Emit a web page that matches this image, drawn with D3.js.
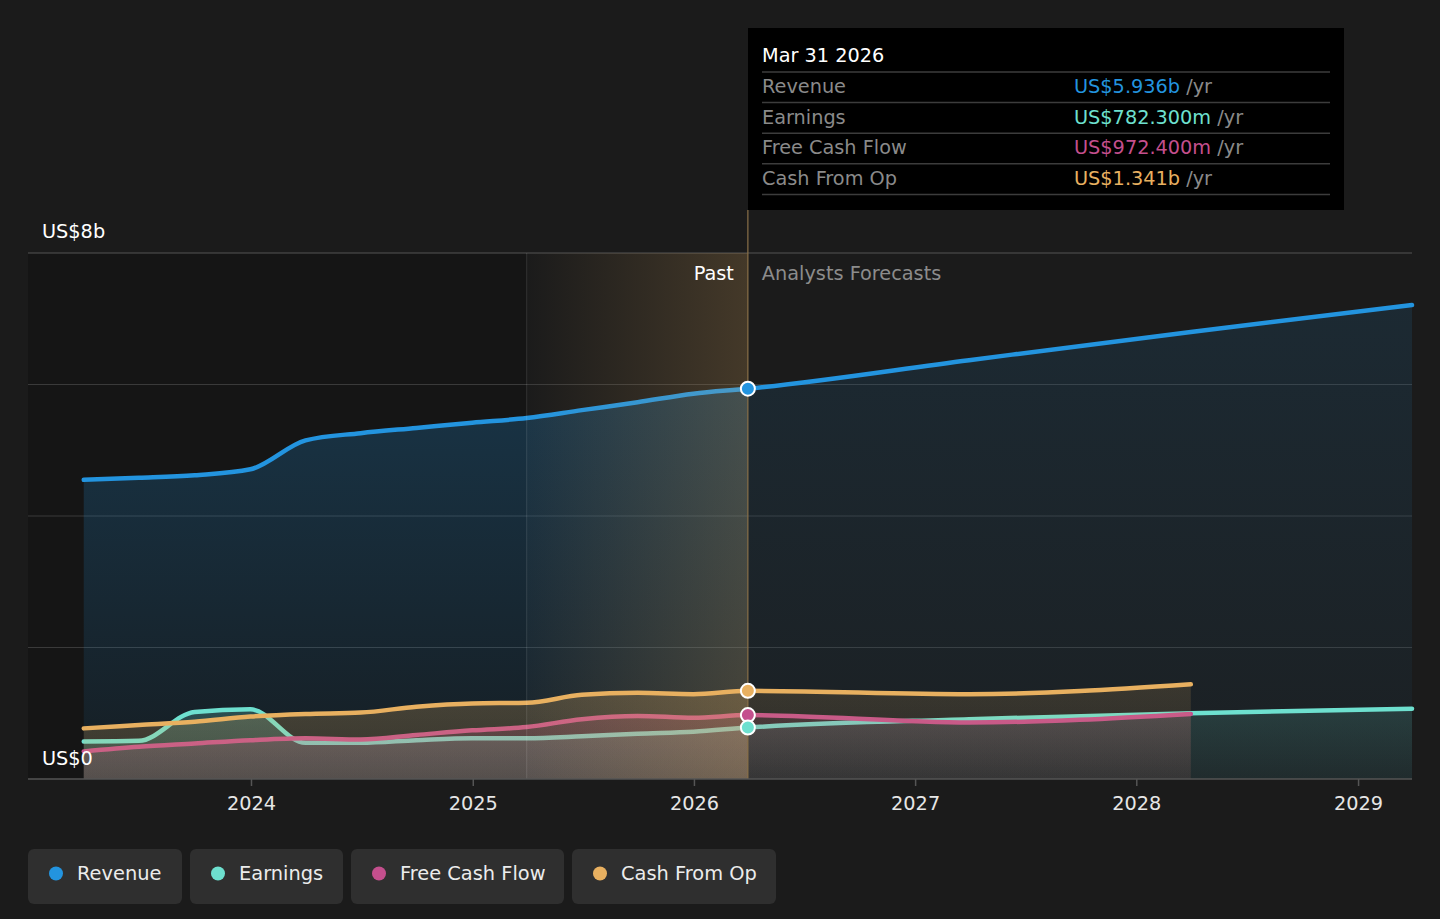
<!DOCTYPE html>
<html>
<head>
<meta charset="utf-8">
<script src="https://cdn.jsdelivr.net/npm/d3@7"></script>
<style>
  body { margin: 0; background: #1b1b1b; }
  svg { display: block; font-family: "DejaVu Sans", sans-serif; }
</style>
</head>
<body>
<svg id="chart" width="1440" height="919"></svg>
<script>
// quarterly history, then yearly analyst forecasts (values in US$ billions)
const pastDates = ["2023-03-31", "2023-06-30", "2023-09-30", "2023-12-31", "2024-03-31", "2024-06-30",
  "2024-09-30", "2024-12-31", "2025-03-31", "2025-06-30", "2025-09-30", "2025-12-31", "2026-03-31"];
const forecastDates = ["2027-03-31", "2028-03-31", "2029-03-31"];

const revenuePast = [4.55, 4.58, 4.62, 4.71, 5.15, 5.26, 5.34, 5.42, 5.49, 5.61, 5.73, 5.86, 5.936];
const revenueForecast = [6.37, 6.80, 7.21];

const earningsPast = [0.57, 0.58, 1.02, 1.06, 0.55, 0.55, 0.59, 0.62, 0.62, 0.65, 0.69, 0.72, 0.7823];
const earningsForecast = [0.91, 1.00, 1.07];

const fcfPast = [0.42, 0.49, 0.54, 0.59, 0.62, 0.60, 0.67, 0.74, 0.79, 0.91, 0.96, 0.93, 0.9724];
const fcfForecast = [0.86, 0.99];

const cfoPast = [0.77, 0.82, 0.87, 0.95, 0.99, 1.01, 1.10, 1.15, 1.16, 1.28, 1.31, 1.29, 1.341];
const cfoForecast = [1.29, 1.44];

const yearTicks = ["2024", "2025", "2026", "2027", "2028", "2029"];

const tooltipRows = [
  { name: "Revenue", value: "US$5.936b", color: "#2394df" },
  { name: "Earnings", value: "US$782.300m", color: "#6ee0cf" },
  { name: "Free Cash Flow", value: "US$972.400m", color: "#c44f8d" },
  { name: "Cash From Op", value: "US$1.341b", color: "#e8b060" }
];

const parse = d3.timeParse("%Y-%m-%d");

// build a series from its past + forecast arrays
function makeSeries(past, forecast) {
  const allDates = pastDates.concat(forecastDates.slice(0, forecast.length));
  return past.concat(forecast).map((v, i) => ({ date: parse(allDates[i]), value: v }));
}

const series = [
  { key: "Revenue", color: "#2394df", data: makeSeries(revenuePast, revenueForecast) },
  { key: "Earnings", color: "#6ee0cf", data: makeSeries(earningsPast, earningsForecast) },
  { key: "Free Cash Flow", color: "#c44f8d", data: makeSeries(fcfPast, fcfForecast) },
  { key: "Cash From Op", color: "#e8b060", data: makeSeries(cfoPast, cfoForecast) }
];

const svg = d3.select("#chart");
const plotLeft = 28, plotRight = 1412, plotTop = 253, plotBottom = 779;
const fontSize = "19.3px";

const x = d3.scaleTime()
  .domain([parse("2022-12-29"), parse("2029-03-31")])
  .range([plotLeft, plotRight]);

const y = d3.scaleLinear()
  .domain([0, 8])
  .range([plotBottom, plotTop]);

const nowDate = parse("2026-03-31");
const pastStart = parse("2025-03-31");

const defs = svg.append("defs");

// clip regions for history and forecast
defs.append("clipPath").attr("id", "clipPast")
  .append("rect")
  .attr("x", 0).attr("y", 0)
  .attr("width", x(nowDate)).attr("height", 919);
defs.append("clipPath").attr("id", "clipFuture")
  .append("rect")
  .attr("x", x(nowDate)).attr("y", 0)
  .attr("width", 1440 - x(nowDate)).attr("height", 919);

const gHi = defs.append("linearGradient").attr("id", "gHighlight");
gHi.append("stop").attr("offset", "0%").attr("stop-color", "#e8b060").attr("stop-opacity", 0.0);
gHi.append("stop").attr("offset", "100%").attr("stop-color", "#e8b060").attr("stop-opacity", 0.2);

// area gradients: one set for history (stronger), one for forecast
function addGradient(id, color, a0, a1, userSpace) {
  const g = defs.append("linearGradient")
    .attr("id", id)
    .attr("x1", 0).attr("x2", 0).attr("y1", 0).attr("y2", 1);
  if (userSpace) {
    g.attr("gradientUnits", "userSpaceOnUse")
      .attr("y1", plotTop).attr("y2", plotBottom);
  }
  g.append("stop").attr("offset", "0%").attr("stop-color", color).attr("stop-opacity", a0);
  g.append("stop").attr("offset", "100%").attr("stop-color", color).attr("stop-opacity", a1);
}
series.forEach((s, i) => {
  if (i == 0) {
    addGradient("past" + i, s.color, 0.3, 0.07, true);
    addGradient("future" + i, s.color, 0.13, 0.04, true);
  } else {
    addGradient("past" + i, s.color, 0.24, 0.15, false);
    addGradient("future" + i, s.color, 0.15, 0.06, false);
  }
});

// darker background behind the history
svg.append("rect")
  .attr("x", plotLeft).attr("y", plotTop)
  .attr("width", x(pastStart) - plotLeft).attr("height", plotBottom - plotTop)
  .attr("fill", "#151515");

// grid lines every US$2b
svg.append("g")
  .selectAll("line")
  .data([2, 4, 6])
  .join("line")
  .attr("x1", plotLeft).attr("x2", plotRight)
  .attr("y1", d => y(d)).attr("y2", d => y(d))
  .attr("stroke", "#3a3a3a");

svg.append("line")
  .attr("x1", plotLeft).attr("x2", plotRight)
  .attr("y1", y(8)).attr("y2", y(8))
  .attr("stroke", "#555");

const area = d3.area()
  .x(d => x(d.date))
  .y0(y(0))
  .y1(d => y(d.value))
  .curve(d3.curveMonotoneX);

const line = d3.line()
  .x(d => x(d.date))
  .y(d => y(d.value))
  .curve(d3.curveMonotoneX);

// each series: area then line, so later areas veil earlier lines
series.forEach((s, i) => {
  const g = svg.append("g");
  g.append("path")
    .attr("d", area(s.data))
    .attr("clip-path", "url(#clipPast)")
    .attr("fill", `url(#past${i})`);
  g.append("path")
    .attr("d", area(s.data))
    .attr("clip-path", "url(#clipFuture)")
    .attr("fill", `url(#future${i})`);
  g.append("path")
    .attr("d", line(s.data))
    .attr("fill", "none")
    .attr("stroke", s.color)
    .attr("stroke-width", 4.5)
    .attr("stroke-linecap", "round");
});

// highlighted last year of history
svg.append("rect")
  .attr("x", x(pastStart)).attr("y", plotTop)
  .attr("width", x(nowDate) - x(pastStart)).attr("height", plotBottom - plotTop)
  .attr("fill", "url(#gHighlight)");

svg.append("line")
  .attr("x1", x(pastStart)).attr("x2", x(pastStart))
  .attr("y1", plotTop).attr("y2", plotBottom)
  .attr("stroke", "#ffffff").attr("stroke-opacity", 0.12);

svg.append("line")
  .attr("x1", x(nowDate)).attr("x2", x(nowDate))
  .attr("y1", 210).attr("y2", plotBottom)
  .attr("stroke", "#8a7048").attr("stroke-width", 1.2);

// baseline axis
svg.append("line")
  .attr("x1", plotLeft).attr("x2", plotRight)
  .attr("y1", plotBottom).attr("y2", plotBottom)
  .attr("stroke", "#555").attr("stroke-width", 1.5);

const xAxis = svg.append("g")
  .attr("transform", `translate(0, ${plotBottom})`)
  .call(d3.axisBottom(x)
    .tickValues(yearTicks.map(t => parse(t + "-01-01")))
    .tickFormat(d3.timeFormat("%Y"))
    .tickSize(7)
    .tickPadding(10));
xAxis.select(".domain").remove();
xAxis.selectAll(".tick line").attr("stroke", "#555").attr("stroke-width", 1.5);
xAxis.selectAll(".tick text")
  .attr("fill", "#e6e6e6")
  .style("font-size", fontSize)
  .style("font-family", "DejaVu Sans, sans-serif");

// y labels
svg.append("text").text("US$8b")
  .attr("x", 42).attr("y", 238)
  .attr("fill", "#fff").style("font-size", fontSize);
svg.append("text").text("US$0")
  .attr("x", 42).attr("y", 765)
  .attr("fill", "#fff").style("font-size", fontSize);

svg.append("text").text("Past")
  .attr("x", x(nowDate) - 14).attr("y", 280)
  .attr("text-anchor", "end")
  .attr("fill", "#fff").style("font-size", fontSize);
svg.append("text").text("Analysts Forecasts")
  .attr("x", x(nowDate) + 14).attr("y", 280)
  .attr("fill", "#8c8c8c").style("font-size", fontSize);

// markers at the current date
svg.append("g")
  .selectAll("circle")
  .data([3, 2, 1, 0].map(i => series[i]))
  .join("circle")
  .attr("cx", x(nowDate))
  .attr("cy", d => y(d.data[pastDates.length - 1].value))
  .attr("r", 7)
  .attr("fill", d => d.color)
  .attr("stroke", "#fff")
  .attr("stroke-width", 2);

// tooltip box
const tip = svg.append("g").attr("transform", "translate(748, 28)");
tip.append("rect")
  .attr("width", 596).attr("height", 182)
  .attr("fill", "#000");
tip.append("text").text("Mar 31 2026")
  .attr("x", 14).attr("y", 34)
  .attr("fill", "#fff").style("font-size", fontSize);

const rowH = 30.6;
tip.selectAll("line.sep")
  .data(d3.range(5))
  .join("line")
  .attr("class", "sep")
  .attr("x1", 14).attr("x2", 582)
  .attr("y1", i => 44 + i * rowH).attr("y2", i => 44 + i * rowH)
  .attr("stroke", "#3c3c3c").attr("stroke-width", 1.5);

const rows = tip.selectAll("g.row")
  .data(tooltipRows)
  .join("g")
  .attr("class", "row")
  .attr("transform", (d, i) => `translate(0, ${65 + i * rowH})`);
rows.append("text").text(d => d.name)
  .attr("x", 14)
  .attr("fill", "#8a8a8a").style("font-size", fontSize);
const valText = rows.append("text")
  .attr("x", 326)
  .style("font-size", fontSize);
valText.append("tspan").text(d => d.value).attr("fill", d => d.color);
valText.append("tspan").text(" /yr").attr("fill", "#8a8a8a");

// legend buttons
const legendX = [28, 190, 351, 572];
const legendW = [154, 153, 213, 204];
const legend = svg.append("g")
  .selectAll("g")
  .data(series)
  .join("g")
  .attr("transform", (d, i) => `translate(${legendX[i]}, 849)`);
legend.append("rect")
  .attr("width", (d, i) => legendW[i]).attr("height", 55)
  .attr("rx", 6)
  .attr("fill", "#2f2f2f");
legend.append("circle")
  .attr("cx", 28).attr("cy", 24.5).attr("r", 7)
  .attr("fill", d => d.color);
legend.append("text").text(d => d.key)
  .attr("x", 49).attr("y", 31)
  .attr("fill", "#ececec").style("font-size", "19.4px");
</script>
</body>
</html>
